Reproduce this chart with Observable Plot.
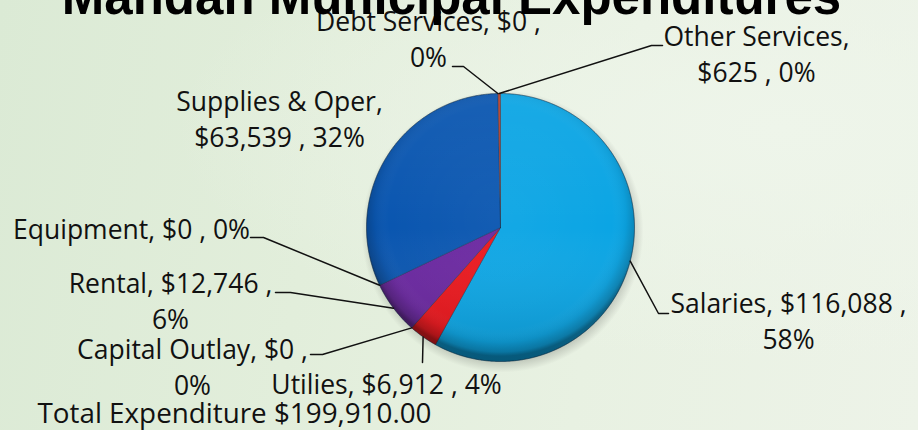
<!DOCTYPE html>
<html><head><meta charset="utf-8">
<script src="https://cdn.jsdelivr.net/npm/d3@7"></script>
<script src="https://cdn.jsdelivr.net/npm/@observablehq/plot@0.6"></script>
<style>
html,body{margin:0;padding:0;}
body{width:918px;height:430px;overflow:hidden;
 background: radial-gradient(ellipse at 85% 30%, #eef5ea 0%, rgba(238,245,234,0) 55%),
             linear-gradient(100deg, #dbead5 0%, #e2eedb 35%, #e8f1e2 65%, #edf3e8 100%);}
#chart svg{display:block;}
</style></head><body><div id="chart"></div>
<script>
// ---- data ----
const categories = ["Salaries","Utilies","Capital Outlay","Rental","Equipment","Supplies & Oper","Debt Services","Other Services"];
const values = [116088, 6912, 0, 12746, 0, 63539, 0, 625];
const percents = [58, 4, 0, 6, 0, 32, 0, 0];
const titleText = "Mandan Municipal Expenditures";
const totalText = "Total Expenditure $199,910.00";

// ---- styles ----
const colors = ["#0ba5e4","#ea161c","#888888","#6a27a0","#555555","#0a56b0","#999999","#b3412f"];

// ---- layout ----
const W = 918, H = 430, CX = 500, CY = 227, R = 134, LINE = 36;
const labelFont = "Open Sans", labelSize = 26.5;
const labelLayout = {
  "Salaries":        {x: 788, y: 312, brk: "pct",  leader: [[658,313],[668,313]]},
  "Utilies":         {x: 386, y: 393, brk: null,   leader: [[422,362]]},
  "Capital Outlay":  {x: 192, y: 358, brk: "pct",  leader: [[322,354],[310,354]]},
  "Rental":          {x: 170, y: 292, brk: "pct",  leader: [[290,292],[275,292]]},
  "Equipment":       {x: 131, y: 238, brk: null,   leader: [[263,237],[250,237]]},
  "Supplies & Oper": {x: 279, y: 110, brk: "name", leader: null},
  "Debt Services":   {x: 428, y: 30,  brk: "pct",  leader: [[463,66],[452,66]]},
  "Other Services":  {x: 756, y: 45,  brk: "name", leader: [[651,45],[662,45]]}
};

const rows = categories.map((c, i) => ({cat: c, value: values[i], pct: percents[i]}));
const arcs = d3.pie().sort(null).value(d => d.value)(rows);
const pt = (a, r = R) => [CX + r * Math.sin(a), CY - r * Math.cos(a)];

// slice polygons
const slicePts = [];
arcs.forEach(a => {
  if (a.endAngle - a.startAngle <= 0) return;
  const c = a.data.cat;
  slicePts.push({cat: c, x: CX, y: CY});
  const n = Math.max(2, Math.ceil((a.endAngle - a.startAngle) / (Math.PI / 360)));
  for (let k = 0; k <= n; k++) {
    const [x, y] = pt(a.startAngle + (a.endAngle - a.startAngle) * k / n);
    slicePts.push({cat: c, x, y});
  }
  slicePts.push({cat: c, x: CX, y: CY});
});
// full disc (for shading overlay)
const disc = d3.range(0, 721).map(k => { const [x, y] = pt(k * Math.PI / 360); return {x, y}; });

// leader lines
const leaderPts = [];
arcs.forEach(a => {
  const L = labelLayout[a.data.cat];
  if (!L.leader) return;
  const [x0, y0] = pt((a.startAngle + a.endAngle) / 2);
  leaderPts.push({cat: a.data.cat, x: x0, y: y0});
  L.leader.forEach(([x, y]) => leaderPts.push({cat: a.data.cat, x, y}));
});

// label lines
const fmt = d3.format(",");
const textRows = [];
rows.forEach(d => {
  const L = labelLayout[d.cat];
  const money = "$" + fmt(d.value), p = d.pct + "%";
  let lines;
  if (L.brk === "pct") lines = [`${d.cat}, ${money} ,`, p];
  else if (L.brk === "name") lines = [`${d.cat},`, `${money} , ${p}`];
  else lines = [`${d.cat}, ${money} , ${p}`];
  lines.forEach((t, j) => textRows.push({text: t, x: L.x, y: L.y + j * LINE}));
});

const defs = () => {
  const ns = "http://www.w3.org/2000/svg";
  const g = document.createElementNS(ns, "defs");
  g.innerHTML = `
   <radialGradient id="bevel" cx="50%" cy="46%" r="52%">
     <stop offset="0" stop-color="#fff" stop-opacity="0.04"/>
     <stop offset="0.80" stop-color="#fff" stop-opacity="0"/>
     <stop offset="0.90" stop-color="#000" stop-opacity="0.05"/>
     <stop offset="0.97" stop-color="#000" stop-opacity="0.20"/>
     <stop offset="1" stop-color="#000" stop-opacity="0.38"/>
   </radialGradient>
   <linearGradient id="shade" x1="0" y1="0" x2="0" y2="1">
     <stop offset="0" stop-color="#fff" stop-opacity="0.06"/>
     <stop offset="0.5" stop-color="#fff" stop-opacity="0"/>
     <stop offset="1" stop-color="#000" stop-opacity="0.14"/>
   </linearGradient>
   <radialGradient id="shadow" cx="50%" cy="50%" r="50%">
     <stop offset="0.88" stop-color="#000" stop-opacity="0.25"/>
     <stop offset="1" stop-color="#000" stop-opacity="0"/>
   </radialGradient>`;
  return g;
};

const chart = Plot.plot({
  width: W, height: H, margin: 0,
  style: {background: "transparent", overflow: "hidden"},
  x: {domain: [0, W], range: [0, W], axis: null},
  y: {domain: [0, H], range: [0, H], axis: null},
  color: {domain: categories, range: colors},
  marks: [
    defs,
    Plot.dot([{x: CX + 2, y: CY + 4}], {x: "x", y: "y", r: R + 7, fill: "url(#shadow)", stroke: "none"}),
    Plot.line(slicePts, {x: "x", y: "y", z: "cat", fill: "cat", stroke: "#0b2a4a", strokeOpacity: 0.45, strokeWidth: 0.8, curve: "linear"}),
    Plot.line(disc, {x: "x", y: "y", fill: "url(#shade)", stroke: "none"}),
    Plot.line(disc, {x: "x", y: "y", fill: "url(#bevel)", stroke: "#1a2a3a", strokeOpacity: 0.35, strokeWidth: 0.8}),
    Plot.line(leaderPts, {x: "x", y: "y", z: "cat", stroke: "#111", strokeWidth: 1.5}),
    Plot.text(textRows, {x: "x", y: "y", text: "text", textAnchor: "middle", lineAnchor: "bottom",
      fontFamily: labelFont, fontSize: labelSize, fontWeight: 400, fill: "#111"}),
    Plot.text([titleText], {x: () => 451, y: () => 13.5, text: d => d, textAnchor: "middle", lineAnchor: "bottom",
      fontFamily: "Liberation Sans", fontSize: 51, fontWeight: "bold", fill: "#000"}),
    Plot.text([totalText], {x: () => 37, y: () => 422, text: d => d, textAnchor: "start", lineAnchor: "bottom",
      fontFamily: labelFont, fontSize: 27.8, fontWeight: 400, fill: "#111"})
  ]
});
document.getElementById("chart").appendChild(chart);
</script>
</body></html>
